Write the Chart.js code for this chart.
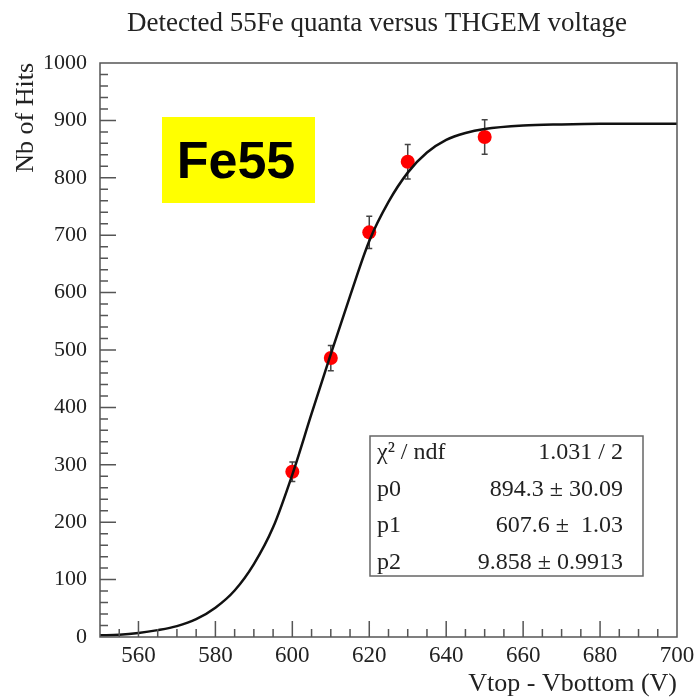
<!DOCTYPE html>
<html>
<head>
<meta charset="utf-8">
<script src="https://cdn.jsdelivr.net/npm/chart.js@4/dist/chart.umd.min.js"></script>
<style>
  html, body { margin: 0; padding: 0; background: #fff; }
  #wrap { width: 695px; height: 700px; position: relative; }
</style>
</head>
<body>
<div id="wrap"><canvas id="hitsChart" width="695" height="700"></canvas></div>
<script>
// measured points
const voltage = [600, 610, 620, 630, 650];
const hits = [288, 486, 705, 828, 871];
const hitErrors = [17, 22, 28, 30, 30];

// fitted curve
const fitVoltage = [550, 555, 560, 565, 570, 575, 580, 585, 590, 595, 600, 605, 610, 615, 620, 625, 630, 635, 640, 645, 650, 660, 670, 680, 690, 700];
const fitHits = [3, 4, 7, 12, 19, 31, 51, 81, 127, 191, 283, 389, 493, 594, 690, 758, 809, 844, 866, 878, 885, 891, 893, 894, 894, 894];

const xTickLabels = [560, 580, 600, 620, 640, 660, 680, 700];
const yTickLabels = [0, 100, 200, 300, 400, 500, 600, 700, 800, 900, 1000];

const statsRows = [
    ['χ² / ndf', '1.031 / 2'],
    ['p0', '894.3 ± 30.09'],
    ['p1', '607.6 ±  1.03'],
    ['p2', '9.858 ± 0.9913']
];

const serif = '"Liberation Serif", "Times New Roman", serif';
const textColor = '#222';
const axisColor = '#555';

const rootStyle = {
    id: 'rootStyle',
    beforeDatasetsDraw(chart) {
        const { ctx, scales: { x, y } } = chart;
        ctx.save();
        ctx.strokeStyle = '#444';
        ctx.lineWidth = 1.5;
        voltage.forEach((v, i) => {
            const px = x.getPixelForValue(v);
            const top = y.getPixelForValue(hits[i] + hitErrors[i]);
            const bot = y.getPixelForValue(hits[i] - hitErrors[i]);
            ctx.beginPath();
            ctx.moveTo(px, top); ctx.lineTo(px, bot);
            ctx.moveTo(px - 3, top); ctx.lineTo(px + 3, top);
            ctx.moveTo(px - 3, bot); ctx.lineTo(px + 3, bot);
            ctx.stroke();
        });
        ctx.restore();
    },
    afterDraw(chart) {
        const { ctx, chartArea: a, scales: { x, y } } = chart;
        ctx.save();

        // frame + ticks inside
        ctx.strokeStyle = axisColor;
        ctx.lineWidth = 1.5;
        ctx.strokeRect(a.left, a.top, a.right - a.left, a.bottom - a.top);
        ctx.beginPath();
        for (let v = 555; v < 700; v += 5) {
            const px = x.getPixelForValue(v);
            const len = v % 20 === 0 ? 16 : 8;
            ctx.moveTo(px, a.bottom); ctx.lineTo(px, a.bottom - len);
        }
        for (let v = 20; v < 1000; v += 20) {
            const py = y.getPixelForValue(v);
            const len = v % 100 === 0 ? 16 : 8;
            ctx.moveTo(a.left, py); ctx.lineTo(a.left + len, py);
        }
        ctx.stroke();

        // title
        ctx.fillStyle = textColor;
        ctx.font = '27px ' + serif;
        ctx.textAlign = 'center';
        ctx.textBaseline = 'alphabetic';
        ctx.fillText('Detected 55Fe quanta versus THGEM voltage', 377, 31);

        // Fe55 label
        ctx.fillStyle = '#ffff00';
        ctx.fillRect(162, 117, 153, 86);
        ctx.fillStyle = '#000';
        ctx.font = 'bold 52px "Liberation Sans", Arial, sans-serif';
        ctx.textAlign = 'center';
        ctx.fillText('Fe55', 236, 178);

        // stats box
        ctx.fillStyle = '#fff';
        ctx.fillRect(370, 436, 273, 140);
        ctx.strokeStyle = '#666';
        ctx.lineWidth = 1.5;
        ctx.strokeRect(370, 436, 273, 140);
        ctx.fillStyle = textColor;
        ctx.font = '24px ' + serif;
        statsRows.forEach((row, i) => {
            const base = 459 + i * 36.5;
            ctx.textAlign = 'left';
            ctx.fillText(row[0], 377, base);
            ctx.textAlign = 'right';
            ctx.fillText(row[1], 623, base);
        });
        ctx.restore();
    }
};

const ctx = document.getElementById('hitsChart').getContext('2d');
const chart = new Chart(ctx, {
    type: 'scatter',
    data: {
        datasets: [
            {
                type: 'line',
                label: 'fit',
                data: fitVoltage.map((v, i) => ({ x: v, y: fitHits[i] })),
                borderColor: '#111',
                borderWidth: 2.5,
                pointRadius: 0,
                cubicInterpolationMode: 'monotone',
                fill: false,
                order: 0
            },
            {
                label: 'data',
                data: voltage.map((v, i) => ({ x: v, y: hits[i] })),
                pointRadius: 7,
                pointBackgroundColor: '#ff0000',
                pointBorderWidth: 0,
                showLine: false,
                order: 1
            }
        ]
    },
    options: {
        responsive: false,
        animation: false,
        layout: { padding: { top: 63, right: 18, left: 0, bottom: 0 } },
        plugins: {
            legend: { display: false },
            tooltip: { enabled: false },
            title: { display: false }
        },
        scales: {
            x: {
                type: 'linear',
                min: 550,
                max: 700,
                afterBuildTicks: (s) => { s.ticks = xTickLabels.map(v => ({ value: v })); },
                afterFit: (s) => { s.height = 63; s.paddingLeft = 0; s.paddingRight = 0; },
                grid: { display: false },
                border: { display: false },
                ticks: {
                    font: { family: serif, size: 23 },
                    color: textColor,
                    padding: -3,
                    maxRotation: 0,
                    autoSkip: false,
                    callback: (v) => String(v)
                },
                title: {
                    display: true,
                    text: 'Vtop - Vbottom (V)',
                    align: 'end',
                    color: textColor,
                    font: { family: serif, size: 26 },
                    padding: { top: 0, bottom: 0 }
                }
            },
            y: {
                type: 'linear',
                min: 0,
                max: 1000,
                afterBuildTicks: (s) => { s.ticks = yTickLabels.map(v => ({ value: v })); },
                afterFit: (s) => { s.width = 100; s.paddingTop = 0; s.paddingBottom = 0; },
                grid: { display: false },
                border: { display: false },
                ticks: {
                    font: { family: serif, size: 22 },
                    color: textColor,
                    padding: 5,
                    autoSkip: false,
                    callback: (v) => String(v)
                },
                title: {
                    display: true,
                    text: 'Nb of Hits',
                    align: 'end',
                    color: textColor,
                    font: { family: serif, size: 26 },
                    padding: { top: 11, bottom: 0 }
                }
            }
        }
    },
    plugins: [rootStyle]
});
</script>
</body>
</html>
